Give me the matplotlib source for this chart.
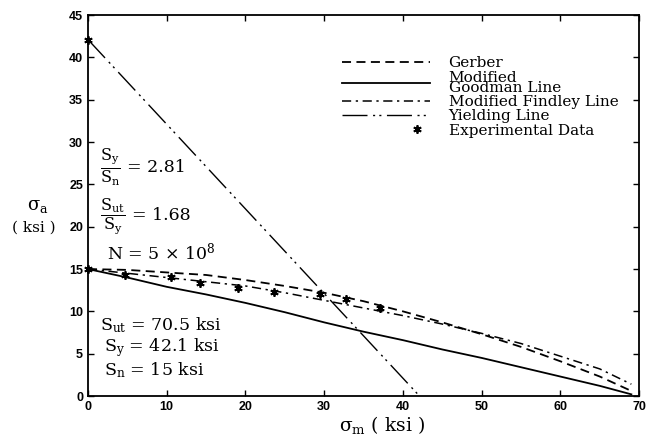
import numpy as np
import matplotlib
matplotlib.use("Agg")
import matplotlib.pyplot as plt
from matplotlib.legend_handler import HandlerLine2D

plt.rcParams['mathtext.fontset'] = 'dejavuserif'
plt.rcParams['mathtext.default'] = 'regular'
plt.rcParams['font.family'] = 'DejaVu Serif'

# curves
sm_curve = [0, 5, 10, 15, 20, 25, 30, 35, 40, 45, 50, 55, 60, 65, 69]
gerber = [15.0, 14.9, 14.6, 14.3, 13.7, 13.0, 12.2, 11.2, 10.0, 8.7, 7.3, 5.8, 4.1, 2.3, 0.6]
findley = [15.0, 14.5, 14.0, 13.5, 13.0, 12.2, 11.3, 10.4, 9.5, 8.5, 7.4, 6.2, 4.7, 3.2, 1.4]
goodman = [15.0, 14.0, 12.9, 12.0, 11.0, 9.9, 8.7, 7.6, 6.6, 5.5, 4.5, 3.4, 2.3, 1.2, 0.2]

yield_sm = [0, 42.1]
yield_sa = [42.1, 0]

exp_sm = [0, 0, 4.7, 10.5, 14.2, 19.0, 23.6, 29.5, 32.8, 37.1]
exp_sa = [42.1, 15.0, 14.3, 14.1, 13.4, 12.8, 12.3, 12.1, 11.5, 10.4]


class RightMarker(HandlerLine2D):
    # single legend marker sits near the right end of the handle
    def get_xdata(self, legend, xdescent, ydescent, width, height, fontsize):
        xd = np.array([0.7 * width, width]) - xdescent
        return xd, xd


fig = plt.figure(figsize=(6.47, 4.43), dpi=100)
ax = fig.add_axes([0.136, 0.106, 0.852, 0.860])

ax.plot(sm_curve, gerber, color='black', lw=1.3, ls=(0, (5, 3)), label='Gerber')
ax.plot(sm_curve, goodman, color='black', lw=1.3, ls='-', label='Modified\nGoodman Line')
ax.plot(sm_curve, findley, color='black', lw=1.1, ls=(0, (6, 3, 1.5, 3)), label='Modified Findley Line')
ax.plot(yield_sm, yield_sa, color='black', lw=1.0, ls=(0, (18, 4, 1.5, 3, 1.5, 4)), label='Yielding Line')
exp_line, = ax.plot(exp_sm, exp_sa, ls='none', marker=(6, 2, 0), ms=6, mew=1.3, color='black',
                    label='Experimental Data', clip_on=False)

ax.set_xlim(0, 70)
ax.set_ylim(0, 45)
ax.set_xticks(np.arange(0, 71, 10))
ax.set_yticks(np.arange(0, 46, 5))
ax.tick_params(direction='in', top=True, right=True, length=4, width=1, labelsize=9)
for lbl in ax.get_xticklabels() + ax.get_yticklabels():
    lbl.set_family('Liberation Sans')
    lbl.set_weight('bold')
for s in ax.spines.values():
    s.set_linewidth(1.3)

leg = ax.legend(loc='upper left', bbox_to_anchor=(0.449, 0.908), frameon=False, fontsize=11,
                handlelength=5.8, handletextpad=1.2, labelspacing=0.02, borderaxespad=0,
                handler_map={exp_line: RightMarker()})
for t in leg.get_texts():
    t.set_linespacing(0.65)

txt = dict(fontsize=12.5, ha='left', va='center')
ax.text(1.5, 27.0, r'$\dfrac{S_y}{S_n}$', fontsize=11.5, ha='left', va='center')
ax.text(4.9, 27.0, '= 2.81', **txt)
ax.text(1.5, 21.3, r'$\dfrac{S_{ut}}{S_y}$', fontsize=11.5, ha='left', va='center')
ax.text(5.6, 21.3, '= 1.68', **txt)
ax.text(2.4, 17.0, r'N = 5 $\times$ 10$^8$', **txt)
ax.text(1.5, 8.4, r'$S_{ut}$ = 70.5 ksi', **txt)
ax.text(2.0, 5.7, r'$S_y$ = 42.1 ksi', **txt)
ax.text(2.0, 3.1, r'$S_n$ = 15 ksi', **txt)

fig.text(0.059, 0.535, r'$\sigma_a$', fontsize=13, ha='center', va='center')
fig.text(0.052, 0.487, '( ksi )', fontsize=11, ha='center', va='center')
fig.text(0.590, 0.040, r'$\sigma_m$ ( ksi )', fontsize=13.5, ha='center', va='center')

fig.savefig('out.png', dpi=100)
